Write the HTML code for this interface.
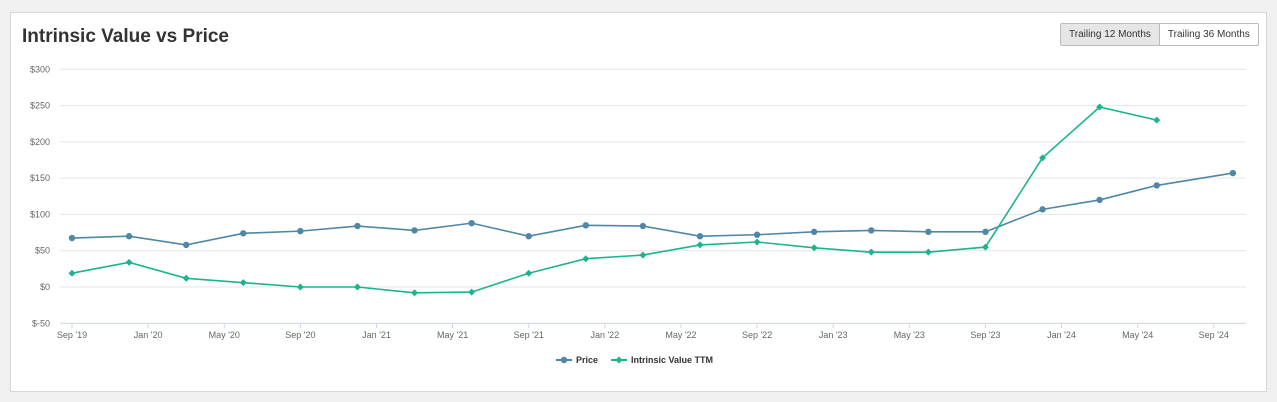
<!DOCTYPE html>
<html><head><meta charset="utf-8"><style>
body{margin:0;width:1277px;height:402px;background:#f0f0f0;font-family:"Liberation Sans",sans-serif;overflow:hidden}
#card{position:absolute;left:10px;top:12px;width:1255px;height:378px;background:#fff;border:1px solid #d6d6d6}
h1{position:absolute;left:11px;top:13px;margin:0;font-size:19px;font-weight:bold;color:#333}
.btns{position:absolute;left:1049px;top:10px;display:flex;border:1px solid #bbb;border-radius:2px;white-space:nowrap}
.btns div{font-size:10px;padding:5px 8px;color:#333;white-space:nowrap}
.btns div.on{background:#e6e6e6;border-right:1px solid #bbb}
svg{position:absolute;left:0;top:0}
</style></head><body>
<div id="card">
<h1>Intrinsic Value vs Price</h1>
<div class="btns">
<div class="on">Trailing 12 Months</div>
<div>Trailing 36 Months</div>
</div>
</div>
<svg id="chart" width="1277" height="402"></svg>
<script>
const yTicks=[-50,0,50,100,150,200,250,300];
const xLabels=["Sep '19","Jan '20","May '20","Sep '20","Jan '21","May '21","Sep '21","Jan '22","May '22","Sep '22","Jan '23","May '23","Sep '23","Jan '24","May '24","Sep '24"];
const priceMonths=[0,3,6,9,12,15,18,21,24,27,30,33,36,39,42,45,48,51,54,57,61];
const priceValues=[67.5,70,58,74,77,84,78,88,70,85,84,70,72,76,78,76,76,107,120,140,157];
const ivMonths=[0,3,6,9,12,15,18,21,24,27,30,33,36,39,42,45,48,51,54,57];
const ivValues=[19,34,12,6,0,0,-8,-7,19,39,44,58,62,54,48,48,55,178,248,230];
const NS="http://www.w3.org/2000/svg";
const svg=document.getElementById('chart');
const x=m=>72+m*19.03;
const y=v=>287-v*0.7257;
function mk(t,a){const e=document.createElementNS(NS,t);for(const k in a)e.setAttribute(k,a[k]);svg.appendChild(e);return e;}
yTicks.forEach(v=>{
 const l=mk('line',{x1:60,x2:1246,y1:y(v),y2:y(v),stroke:v===-50?'#ccd6eb':'#e6e6e6'});
 
 
 const t=mk('text',{x:50,y:y(v)+3,'text-anchor':'end','font-size':9,fill:'#666'});
 t.textContent=(v<0?'$-'+(-v):'$'+v);
 
 
});
xLabels.forEach((s,i)=>{
 const xx=x(i*4);
 const tk=mk('line',{x1:xx,x2:xx,y1:323,y2:328,stroke:'#ccd6eb'});
 
 
 const t=mk('text',{x:xx,y:338,'text-anchor':'middle','font-size':9,fill:'#666'});
 t.textContent=s;
 
 
});
function series(ms,vs,color,diamond,name){
 const p=mk('polyline',{points:ms.map((m,i)=>x(m)+','+y(vs[i])).join(' '),fill:'none',stroke:color,'stroke-width':1.6});
 
 
 ms.forEach((m,i)=>{
  let e;
  if(diamond){const cx=x(m),cy=y(vs[i]);e=mk('path',{d:`M${cx} ${cy-3.5}L${cx+3.5} ${cy}L${cx} ${cy+3.5}L${cx-3.5} ${cy}Z`,fill:color});}
  else e=mk('circle',{cx:x(m),cy:y(vs[i]),r:3.2,fill:color});
  
  
 });
}
series(priceMonths,priceValues,'#4f87a6',false,'price');
series(ivMonths,ivValues,'#1db38f',true,'intrinsic-value');
function legend(x0,color,diamond,label,name){
 const l=mk('line',{x1:x0,x2:x0+16,y1:360,y2:360,stroke:color,'stroke-width':2});
 
 
 let m;
 if(diamond)m=mk('path',{d:`M${x0+8} 356.5L${x0+11.5} 360L${x0+8} 363.5L${x0+4.5} 360Z`,fill:color});
 else m=mk('circle',{cx:x0+8,cy:360,r:3.2,fill:color});
 
 
 const t=mk('text',{x:x0+20,y:363,'font-size':9,'font-weight':'bold',fill:'#333'});
 t.textContent=label;
 
 
}
legend(556,'#4f87a6',false,'Price','price');
legend(611,'#1db38f',true,'Intrinsic Value TTM','intrinsic-value');
</script>
</body></html>
